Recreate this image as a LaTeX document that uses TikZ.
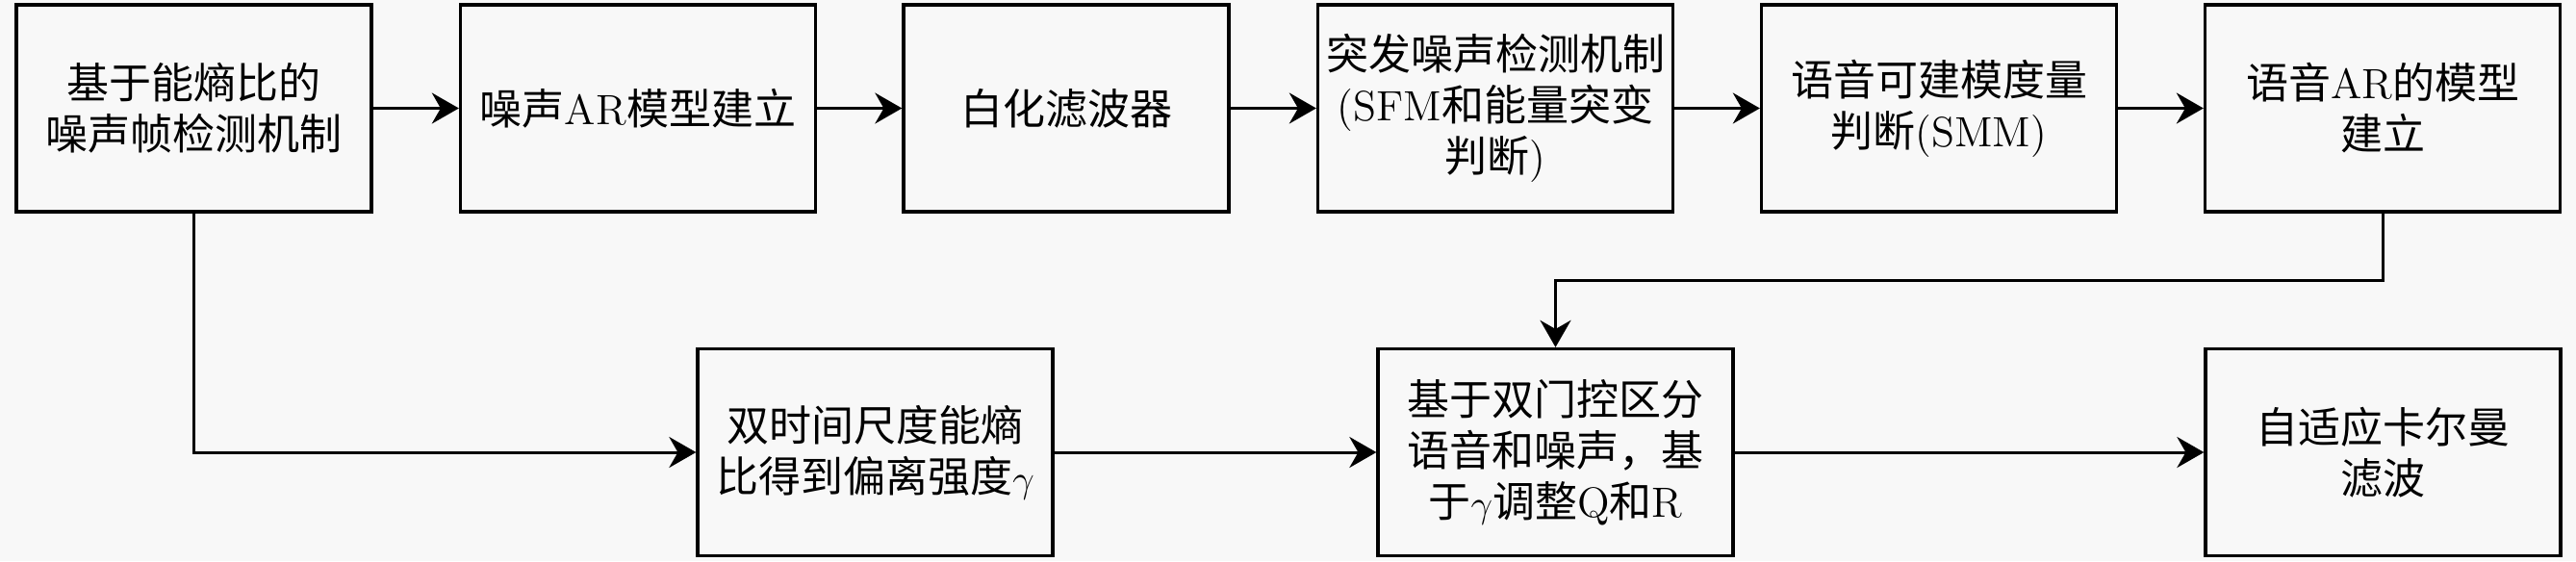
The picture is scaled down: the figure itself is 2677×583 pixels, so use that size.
\documentclass[tikz,border=0pt]{standalone}
\usepackage{fontspec}
\newfontfamily\cjk{Noto Sans CJK SC}
\usetikzlibrary{arrows.meta}
\newcommand\zh[1]{{\cjk #1}}
\definecolor{bg}{RGB}{248,248,248}
\tikzset{
 box/.style={draw=black, line width=1pt, fill=bg, minimum width=110.7pt, minimum height=64.5pt, inner sep=0pt, align=center, font=\fontsize{13.2}{15.9}\selectfont},
 arr/.style={-{Stealth[length=8.4pt,width=9.6pt]}, line width=0.9pt},
}
\begin{document}
\begin{tikzpicture}[x=0.3pt,y=-0.3pt]
\fill[bg] (0,0) rectangle (2677,583);
\useasboundingbox (0,0) rectangle (2677,583);
\node[box] (b1) at (201.5,112.5) {\zh{基于能熵比的}\\\zh{噪声帧检测机制}};
\node[box] (b2) at (663,112.5) {\zh{噪声}AR\zh{模型建立}};
\node[box, minimum width=101.4pt] (b3) at (1108,112.5) {\zh{白化滤波器}};
\node[box] (b4) at (1554,112.5) {\zh{突发噪声检测机制}\\(SFM\zh{和能量突变}\\\zh{判断})};
\node[box] (b5) at (2015,112.5) {\zh{语音可建模度量}\\\zh{判断}(SMM)};
\node[box] (b6) at (2476,112.5) {\zh{语音}AR\zh{的模型}\\\zh{建立}};
\node[box] (b7) at (909.5,470) {\zh{双时间尺度能熵}\\\zh{比得到偏离强度}$\gamma$};
\node[box] (b8) at (1616.5,470) {\zh{基于双门控区分}\\\zh{语音和噪声，基}\\\zh{于}$\gamma$\zh{调整}Q\zh{和}R};
\node[box] (b9) at (2476.5,470) {\zh{自适应卡尔曼}\\\zh{滤波}};
\coordinate (m) at (0,291);
\draw[arr] (b1) -- (b2);
\draw[arr] (b2) -- (b3);
\draw[arr] (b3) -- (b4);
\draw[arr] (b4) -- (b5);
\draw[arr] (b5) -- (b6);
\draw[arr] (b1.south) |- (b7.west);
\draw[arr] (b6.south) -- (b6.south |- m) -| (b8.north);
\draw[arr] (b7) -- (b8);
\draw[arr] (b8) -- (b9);
\end{tikzpicture}
\end{document}
